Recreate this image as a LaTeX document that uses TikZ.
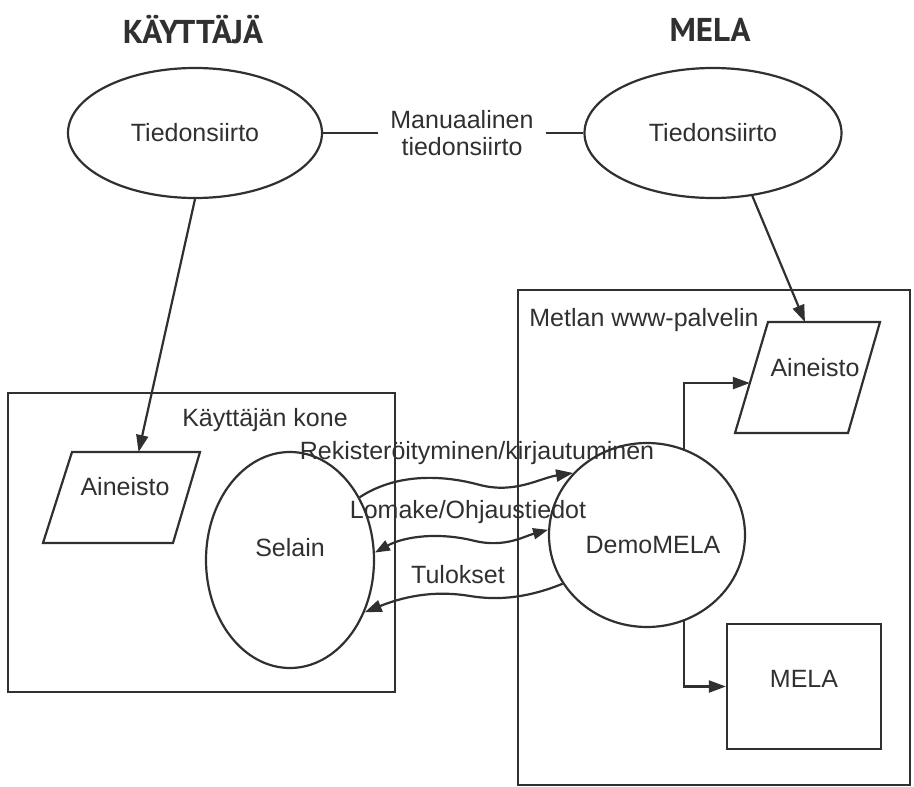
\documentclass[tikz,border=0pt]{standalone}
\usepackage{fontspec}
\setmainfont{Liberation Sans}
\newfontfamily\headfont{PT Sans}
\usetikzlibrary{arrows.meta,calc,positioning,shapes.geometric}
\definecolor{ink}{HTML}{303030}

\begin{document}
\begin{tikzpicture}[x=1pt,y=-1pt, line width=2.2pt, ink,
  font=\fontsize{25}{27}\selectfont,
  proc/.style={ellipse, draw, inner sep=0pt},
  box/.style={rectangle, draw, inner sep=0pt},
  arr/.style={-{Triangle[length=17pt,width=12pt]}},
  arrboth/.style={{Triangle[length=15pt,width=11pt]}-{Triangle[length=15pt,width=11pt]}},
  head/.style={font=\headfont\bfseries\fontsize{33}{36}\selectfont}]
\useasboundingbox (0,0) rectangle (914,787);

% otsikot
\node[head] (hk) at (193,30) {KÄYTTÄJÄ};
\node[head] (hm) at (710,30) {MELA};

% tiedonsiirto
\node[proc, minimum width=254pt, minimum height=130pt] (tl) at (195,133) {Tiedonsiirto};
\node[proc, minimum width=257pt, minimum height=130pt] (tr) at (713,133) {Tiedonsiirto};
\node[align=center, inner xsep=11pt] (man) at (462,133) {Manuaalinen\\tiedonsiirto};
\draw (tl) -- (man);
\draw (man) -- (tr);

% koneet
\node[box, minimum width=387pt, minimum height=299pt] (kone) at (201.5,542.5) {};
\node[box, minimum width=392pt, minimum height=495pt] (palv) at (714,537.5) {};
\node (konelbl) at (265,420) {Käyttäjän kone};
\node (palvlbl) at (644,320) {Metlan www-palvelin};

% aineistot
\coordinate (a1tl) at (72,452);  \coordinate (a1tr) at (200,452);
\coordinate (a1br) at (173,543); \coordinate (a1bl) at (43,543);
\draw (a1tl) -- (a1tr) -- (a1br) -- (a1bl) -- cycle;
\node (ain1) at (125,487) {Aineisto};
\coordinate (a2tl) at (768,322); \coordinate (a2tr) at (880,322);
\coordinate (a2br) at (848,433); \coordinate (a2bl) at (735,433);
\draw (a2tl) -- (a2tr) -- (a2br) -- (a2bl) -- cycle;
\node (ain2) at (815,368) {Aineisto};

% prosessit
\node[proc, minimum width=168pt, minimum height=216pt, label={[yshift=12pt]center:Selain}] (sel) at (290,560) {};
\node[proc, minimum width=196pt, minimum height=184pt, label={[xshift=6pt,yshift=-10pt]center:DemoMELA}] (dm) at (647,535) {};
\node[box, minimum width=154pt, minimum height=125pt, label={[yshift=8pt]center:MELA}] (mela) at (804,686.5) {};

\draw[arr] (tl.south) -- ($(a1tl)!0.52!(a1tr)$);
\draw[arr] (tr.-58) -- ($(a2tl)!0.33!(a2tr)$);
\draw[arr] (dm.67) |- ($(a2tl)!0.55!(a2bl)$);
\draw[arr] (dm.-67) |- (mela.west);

% selain <-> demomela
\draw[arr] (sel.42) .. controls (395,474) and (440,474) .. (480,485) .. controls (515,494) and (540,478) .. (dm.140);
\draw[arrboth] (sel.5) .. controls (405,536) and (440,532) .. (475,541) .. controls (505,548) and (525,536) .. (dm.177);
\draw[arr] (dm.210) .. controls (530,597) and (500,601) .. (470,596) .. controls (440,591) and (410,594) .. (sel.-35);
\node (reg) at (477,453) {Rekisteröityminen/kirjautuminen};
\node (lom) at (468,512) {Lomake/Ohjaustiedot};
\node (tul) at (458,575) {Tulokset};
\end{tikzpicture}
\end{document}
